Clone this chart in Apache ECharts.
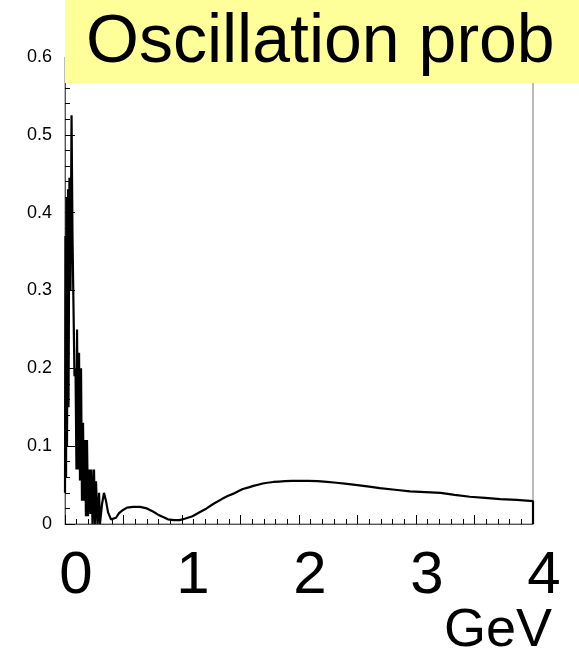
<!DOCTYPE html>
<html>
<head>
<meta charset="utf-8">
<script src="https://cdn.jsdelivr.net/npm/echarts@6/dist/echarts.min.js"></script>
<style>
  html, body { margin: 0; padding: 0; background: #fff; }
  #chart { width: 579px; height: 654px; }
</style>
</head>
<body>
<div id="chart"></div>
<script>
// Energy (GeV) and oscillation probability
var energy = [
  0.000, 0.004, 0.009, 0.013, 0.017, 0.026, 0.030, 0.038, 0.047, 0.056,
  0.064, 0.073, 0.081, 0.090, 0.098, 0.103, 0.111, 0.120, 0.128, 0.137,
  0.145, 0.154, 0.162, 0.171, 0.179, 0.188, 0.197, 0.209, 0.218, 0.226,
  0.235, 0.248, 0.256, 0.265, 0.278, 0.291, 0.299, 0.316, 0.333, 0.350,
  0.368, 0.393, 0.410, 0.436, 0.462, 0.496, 0.530, 0.581, 0.641, 0.700,
  0.752, 0.795, 0.838, 0.880, 0.930, 0.980, 1.030, 1.090, 1.150, 1.210,
  1.270, 1.340, 1.390, 1.440, 1.480, 1.520, 1.570, 1.610, 1.650, 1.690,
  1.730, 1.780, 1.830, 1.880, 1.940, 2.010, 2.080, 2.160, 2.240, 2.320,
  2.410, 2.500, 2.600, 2.690, 2.820, 2.950, 3.080, 3.210, 3.330, 3.460,
  3.590, 3.720, 3.860, 4.000, 4.000
];
var prob = [
  0.040, 0.370, 0.060, 0.420, 0.100, 0.430, 0.150, 0.445, 0.300, 0.525,
  0.370, 0.370, 0.190, 0.200, 0.070, 0.250, 0.070, 0.220, 0.056, 0.200,
  0.030, 0.130, 0.030, 0.108, 0.010, 0.108, 0.010, 0.070, 0.013, 0.070,
  0.000, 0.070, 0.000, 0.055, 0.000, 0.040, 0.000, 0.025, 0.040, 0.030,
  0.015, 0.006, 0.004, 0.008, 0.014, 0.018, 0.021, 0.022, 0.022, 0.020,
  0.016, 0.012, 0.009, 0.006, 0.005, 0.005, 0.007, 0.010, 0.015, 0.020,
  0.026, 0.032, 0.036, 0.039, 0.042, 0.045, 0.047, 0.049, 0.0505, 0.052,
  0.053, 0.054, 0.0545, 0.055, 0.0553, 0.0555, 0.0554, 0.055, 0.054, 0.053,
  0.0515, 0.050, 0.048, 0.046, 0.044, 0.042, 0.041, 0.040, 0.0375, 0.035,
  0.0335, 0.032, 0.031, 0.0295, 0.000
];
var xTickLabels = ['0', '1', '2', '3', '4'];
var yTickLabels = ['0', '0.1', '0.2', '0.3', '0.4', '0.5', '0.6'];
var titleText = 'Oscillation prob';
var xUnit = 'GeV';

var points = energy.map(function (e, i) { return [e, prob[i]]; });
var FONT = '"Liberation Sans", Arial, Helvetica, sans-serif';

var chart = echarts.init(document.getElementById('chart'), null, { renderer: 'canvas' });
chart.setOption({
  animation: false,
  backgroundColor: '#ffffff',
  title: {
    text: titleText,
    left: 86,
    top: 43,
    textVerticalAlign: 'middle',
    padding: 0,
    z: 20,
    textStyle: {
      fontFamily: FONT,
      fontSize: 68,
      fontWeight: 'normal',
      color: '#000',
      lineHeight: 68,
      verticalAlign: 'middle'
    }
  },
  grid: {
    left: 65, right: 46, top: 57, bottom: 130,
    show: true, borderColor: '#777', borderWidth: 1
  },
  xAxis: {
    type: 'value',
    min: 0, max: 4, interval: 0.5,
    axisLine: { show: true, lineStyle: { color: '#555', width: 1 } },
    axisTick: { show: true, inside: true, length: 9, lineStyle: { color: '#000' } },
    minorTick: { show: true, splitNumber: 5, length: 5, lineStyle: { color: '#000' } },
    splitLine: { show: false },
    axisLabel: {
      margin: 22,
      fontFamily: FONT,
      fontSize: 60,
      color: '#000',
      padding: [0, 0, 0, 22],
      showMinLabel: true,
      showMaxLabel: true,
      formatter: function (v) {
        return Number.isInteger(v) ? xTickLabels[v] : '';
      }
    }
  },
  yAxis: {
    type: 'value',
    min: 0, max: 0.6, interval: 0.1,
    axisLine: { show: true, lineStyle: { color: '#555', width: 1 } },
    axisTick: { show: true, inside: true, length: 10, lineStyle: { color: '#000' } },
    minorTick: { show: true, splitNumber: 5, length: 5, lineStyle: { color: '#000' } },
    splitLine: { show: false },
    axisLabel: {
      margin: 13,
      fontFamily: FONT,
      fontSize: 18,
      color: '#000',
      formatter: function (v) {
        return yTickLabels[Math.round(v * 10)];
      }
    }
  },
  graphic: {
    z: 10,
    elements: [
      {
        type: 'rect',
        z: 10,
        shape: { x: 65, y: 0, width: 514, height: 83 },
        style: { fill: '#ffff99' }
      },
      {
        type: 'text',
        z: 10,
        x: 552, y: 631,
        style: {
          text: xUnit,
          font: 'normal 54px ' + FONT,
          fill: '#000',
          align: 'right',
          verticalAlign: 'middle'
        }
      }
    ]
  },
  series: [{
    type: 'line',
    data: points,
    showSymbol: false,
    symbol: 'none',
    clip: true,
    lineStyle: { color: '#000', width: 2.2 }
  }]
});
</script>
</body>
</html>
